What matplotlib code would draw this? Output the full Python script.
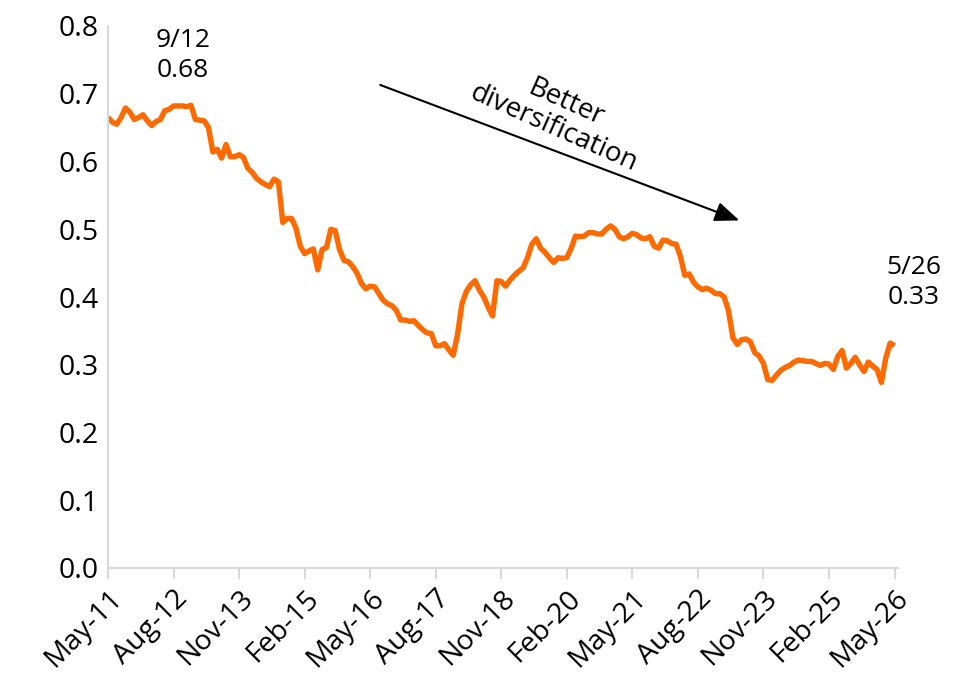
import matplotlib
matplotlib.use("Agg")
import matplotlib.pyplot as plt
import numpy as np

# Monthly values May-2011 .. May-2026 (181 points)
values = [
    0.665, 0.658, 0.655, 0.665, 0.679, 0.673, 0.662, 0.665, 0.669, 0.660,
    0.653, 0.659, 0.662, 0.675, 0.677, 0.682, 0.682, 0.682, 0.681, 0.683,
    0.662, 0.661, 0.660, 0.650, 0.614, 0.618, 0.605, 0.625, 0.607, 0.607,
    0.610, 0.606, 0.590, 0.584, 0.575, 0.570, 0.566, 0.563, 0.574, 0.570,
    0.510, 0.516, 0.516, 0.502, 0.475, 0.464, 0.468, 0.471, 0.440, 0.470,
    0.473, 0.500, 0.498, 0.470, 0.454, 0.452, 0.445, 0.435, 0.420, 0.412,
    0.416, 0.415, 0.405, 0.395, 0.390, 0.387, 0.380, 0.366, 0.366, 0.364,
    0.365, 0.358, 0.352, 0.347, 0.346, 0.328, 0.328, 0.331, 0.322, 0.314,
    0.345, 0.390, 0.408, 0.418, 0.424, 0.410, 0.400, 0.385, 0.372, 0.424,
    0.423, 0.416, 0.425, 0.432, 0.438, 0.443, 0.458, 0.478, 0.486, 0.472,
    0.466, 0.458, 0.451, 0.458, 0.457, 0.458, 0.472, 0.490, 0.489, 0.490,
    0.495, 0.495, 0.493, 0.493, 0.500, 0.505, 0.500, 0.489, 0.486, 0.489,
    0.494, 0.492, 0.487, 0.486, 0.489, 0.475, 0.472, 0.484, 0.483, 0.479,
    0.478, 0.460, 0.432, 0.434, 0.422, 0.415, 0.411, 0.413, 0.410, 0.405,
    0.405, 0.400, 0.380, 0.340, 0.330, 0.337, 0.338, 0.334, 0.318, 0.313,
    0.302, 0.278, 0.277, 0.285, 0.292, 0.296, 0.299, 0.304, 0.307, 0.306,
    0.305, 0.305, 0.302, 0.299, 0.302, 0.301, 0.293, 0.312, 0.321, 0.295,
    0.302, 0.311, 0.300, 0.290, 0.304, 0.298, 0.293, 0.274, 0.310, 0.332,
    0.328,
]
tick_labels = ["May-11", "Aug-12", "Nov-13", "Feb-15", "May-16", "Aug-17",
               "Nov-18", "Feb-20", "May-21", "Aug-22", "Nov-23", "Feb-25", "May-26"]
tick_step = 15
y_ticks = [0.0, 0.1, 0.2, 0.3, 0.4, 0.5, 0.6, 0.7, 0.8]
start_label = ("9/12", "0.68", 16)
end_label = ("5/26", "0.33", 180)

plt.rcParams['font.family'] = ['Open Sans', 'DejaVu Sans']

fig = plt.figure(figsize=(9.64, 6.87), dpi=100)
ax = fig.add_axes([108/964, 1-568/687, (898-108)/964, (568-26)/687])

x = np.arange(len(values))
ax.plot(x, values, color="#FF6A00", lw=3.9, solid_joinstyle="round", solid_capstyle="butt")

ax.set_xlim(0, 180.8)
ax.set_ylim(0, 0.8)
ax.set_yticks(y_ticks)
ax.set_yticklabels([f"{v:.1f}" for v in y_ticks], fontsize=20.5)
ax.set_xticks([i * tick_step for i in range(len(tick_labels))])
ax.set_xticklabels(tick_labels, rotation=45, ha="right", va="top",
                   rotation_mode="anchor", fontsize=20.5)

for s in ["top", "right"]:
    ax.spines[s].set_visible(False)
ax.spines["left"].set_color("#d9d9d9")
ax.spines["left"].set_linewidth(1.5)
ax.spines["bottom"].set_color("#d9d9d9")
ax.spines["bottom"].set_linewidth(1.5)
ax.tick_params(axis="y", length=0, pad=7)
ax.tick_params(axis="x", length=8, width=1.5, color="#d9d9d9", pad=4)

# annotations
ax.text(start_label[2] + 1.2, 0.778, start_label[0], ha="center", va="center", fontsize=19)
ax.text(start_label[2] + 1.2, 0.734, start_label[1], ha="center", va="center", fontsize=19)
ax.text(end_label[2] + 4.4, 0.443, end_label[0], ha="center", va="center", fontsize=19)
ax.text(end_label[2] + 4.4, 0.400, end_label[1], ha="center", va="center", fontsize=19)

ax.annotate("", xy=(144.5, 0.513), xytext=(62.3, 0.713),
            arrowprops=dict(arrowstyle="-|>,head_length=1.5,head_width=0.6",
                            color="black", lw=1.5, shrinkA=0, shrinkB=0))
ax.text(103.4, 0.668, "Better\ndiversification", ha="center", va="center",
        rotation=-24, rotation_mode="anchor", fontsize=20, linespacing=1.0)

fig.savefig("out.png", dpi=100)
